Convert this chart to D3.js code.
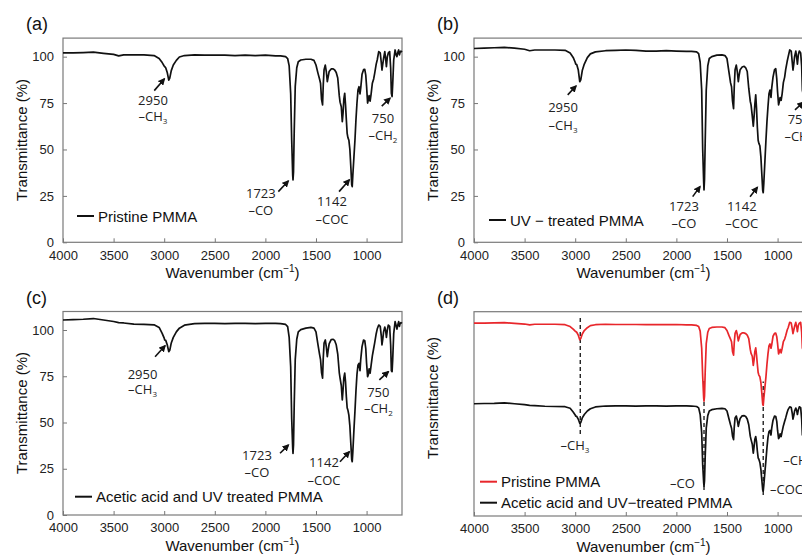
<!DOCTYPE html>
<html><head><meta charset="utf-8">
<script src="https://cdn.jsdelivr.net/npm/d3@7"></script>
<style>body{margin:0;background:#fff}svg{display:block}</style>
</head><body><svg id="c" width="802" height="558"></svg>
<script>
// ---- data ----
const wavenumbers = [4000,3900,3800,3700,3600,3500,3450,3400,3300,3200,3100,3050,3020,3000,2995,2985,2970,2955,2945,2930,2910,2880,2850,2800,2700,2600,2500,2400,2300,2200,2100,2000,1900,1850,1800,1780,1765,1750,1740,1730,1727,1722,1715,1705,1690,1675,1650,1600,1550,1520,1500,1480,1465,1455,1445,1435,1428,1420,1408,1398,1388,1380,1370,1350,1330,1315,1300,1285,1270,1262,1250,1240,1232,1225,1216,1208,1200,1192,1185,1175,1165,1155,1147,1142,1136,1125,1115,1105,1095,1085,1075,1065,1058,1045,1030,1018,1008,1000,990,982,975,965,955,943,930,920,905,895,880,865,855,848,840,832,820,810,804,795,785,772,762,755,748,742,732,718,708,700,690,683,675,668,660,650];
const pristine = [102.0,102.0,102.2,102.4,101.8,101.2,100.4,101.0,101.0,101.0,100.6,99.0,96.8,95.0,94.6,94.0,91.5,87.4,88.5,92.5,95.5,98.0,99.8,100.6,101.0,100.8,100.8,100.8,100.6,100.8,100.6,100.8,100.4,100.4,100.0,99.0,95.0,80.0,55.0,36.0,33.6,38.0,60.0,84.0,94.0,97.3,98.2,98.6,98.6,98.0,95.5,91.0,88.0,85.7,77.0,74.0,85.0,93.0,95.5,92.0,86.5,89.0,92.0,93.4,93.4,92.8,91.5,88.5,79.0,75.5,73.0,65.0,70.0,77.0,80.3,74.0,66.0,58.7,56.5,55.0,50.0,40.0,31.0,30.0,36.0,46.0,55.0,66.0,75.0,82.0,83.8,80.0,83.0,90.5,93.0,93.2,90.0,84.0,75.0,77.0,79.0,76.0,80.0,85.7,88.0,91.0,96.0,98.2,102.7,102.0,97.0,92.8,96.0,99.0,102.7,98.0,94.6,100.0,102.0,102.7,94.0,80.3,78.5,85.0,98.2,103.6,101.0,100.0,102.5,103.6,101.0,102.5,103.0,102.5];
const uvTreated = [104.4,104.6,104.8,105.0,104.6,104.0,103.2,103.6,103.6,103.6,103.4,102.0,99.6,97.0,96.0,95.8,93.0,86.5,87.5,92.5,96.0,99.5,101.5,102.6,103.2,103.4,103.6,103.4,103.0,103.0,103.2,103.0,102.8,102.8,102.6,101.6,97.0,82.0,50.0,32.0,28.2,34.0,55.0,82.0,95.0,99.0,100.0,100.8,101.0,100.6,99.0,91.5,86.0,83.8,76.0,72.0,84.0,93.0,95.5,92.0,86.5,90.0,93.0,94.4,94.8,94.0,92.0,83.0,76.0,74.0,68.0,62.5,68.0,74.0,79.4,72.0,62.0,55.0,53.3,52.0,46.0,36.0,28.0,26.7,32.0,44.0,55.0,65.0,73.0,80.0,82.0,78.0,83.0,89.0,93.0,93.5,88.0,81.0,74.0,76.0,78.0,76.5,80.0,86.0,89.0,93.0,97.5,100.0,103.6,103.0,97.0,92.8,96.0,100.0,103.0,99.0,96.0,101.0,103.0,102.0,95.0,82.0,80.0,86.0,98.0,104.0,102.0,101.0,103.0,104.2,102.0,103.0,103.5,103.0];
const aceticUv = [105.4,105.6,105.8,106.2,105.4,104.6,104.0,103.8,103.2,103.0,102.8,101.4,98.2,95.6,94.6,94.4,92.0,88.3,89.0,93.0,96.0,99.0,101.0,102.6,103.4,103.6,103.6,103.4,103.6,103.6,103.4,103.6,103.6,103.4,103.0,101.8,96.0,80.0,52.0,36.0,33.3,38.0,60.0,84.0,95.0,99.0,100.2,101.0,101.4,101.0,99.0,92.0,87.0,84.0,77.0,74.0,85.0,93.0,94.6,91.0,85.6,89.0,92.5,94.8,95.0,94.2,92.0,87.0,77.0,74.0,70.0,62.2,68.0,74.0,76.7,72.0,64.0,58.0,56.8,54.0,48.0,38.0,30.0,28.8,34.0,46.0,56.0,67.0,76.0,81.0,82.0,78.0,84.0,91.0,94.6,94.2,90.0,82.0,74.8,76.0,79.0,76.7,81.0,86.0,90.0,93.0,98.0,100.5,102.7,102.0,97.0,91.9,95.0,99.0,101.6,99.0,96.0,100.0,102.7,102.0,92.0,78.0,77.5,84.0,98.0,104.5,102.5,100.5,103.0,104.5,102.0,103.6,104.0,103.6];
const xTicks = [4000,3500,3000,2500,2000,1500,1000];
const yTicks = [0,25,50,75,100];
const xDomain = [4000,650];
const dOffset = 74;            // vertical offset of the red trace in panel (d)
const legendA = ["Pristine PMMA"];
const legendB = ["UV \u2212 treated PMMA"];
const legendC = ["Acetic acid and UV treated PMMA"];
const legendD = ["Pristine PMMA","Acetic acid and UV\u2212treated PMMA"];
// annotations: wavenumber / transmittance coordinates of label + arrow
const annotA = [
 {l1:"2950",l2:"\u2013CH",sub:"3",tx:3111,ty1:74,ty2:65.3,x0:3098,y0:81.7,x1:2999,y1:88},
 {l1:"1723",l2:"\u2013CO",sub:"",tx:2045,ty1:24.1,ty2:14.7,x0:1872,y0:27.3,x1:1774,y1:33},
 {l1:"1142",l2:"\u2013COC",sub:"",tx:1342,ty1:19.3,ty2:9.9,x0:1272,y0:27.3,x1:1171,y1:33.6},
 {l1:"750",l2:"\u2013CH",sub:"2",tx:838,ty1:64.3,ty2:55,x0:850,y0:73.4,x1:768,y1:77.6}
];
const annotB = [
 {l1:"2950",l2:"\u2013CH",sub:"3",tx:3120,ty1:70.2,ty2:60.5,x0:3074,y0:79.4,x1:2992,y1:84.2},
 {l1:"1723",l2:"\u2013CO",sub:"",tx:1925,ty1:16.9,ty2:7.7,x0:1839,y0:24.6,x1:1767,y1:30},
 {l1:"1142",l2:"\u2013COC",sub:"",tx:1354,ty1:16.9,ty2:7.7,x0:1272,y0:24.6,x1:1200,y1:29.6},
 {l1:"750",l2:"\u2013CH",sub:"2",tx:790,ty1:63.7,ty2:54.3,x0:828,y0:71.3,x1:746,y1:75.4}
];
const annotC = [
 {l1:"2950",l2:"\u2013CH",sub:"3",tx:3214,ty1:73.6,ty2:65.2,x0:3090,y0:85.5,x1:2992,y1:91.5},
 {l1:"1723",l2:"\u2013CO",sub:"",tx:2083,ty1:29.7,ty2:20.3,x0:1855,y0:33.4,x1:1773,y1:37.8},
 {l1:"1142",l2:"\u2013COC",sub:"",tx:1421,ty1:26.2,ty2:16.2,x0:1263,y0:28.8,x1:1171,y1:34.2},
 {l1:"750",l2:"\u2013CH",sub:"2",tx:884,ty1:64,ty2:55.1,x0:874,y0:73,x1:785,y1:77.5}
];
const labelsD = [
 {t:"\u2013CH",sub:"3",x:3002,y:64.6,anchor:"middle"},
 {t:"\u2013CO",sub:"",x:1940,y:31.7,anchor:"middle"},
 {t:"\u2013COC",sub:"",x:1075,y:26.4,anchor:"start"},
 {t:"\u2013CH",sub:"2",x:943,y:51.8,anchor:"start"}
];
const dashD = [
 {x:2950,y0:79,y1:180.8},
 {x:1727,y0:29.9,y1:128},
 {x:1142,y0:25.5,y1:124.9}
];

// ---- layout ----
const svg = d3.select("#c");
svg.append("rect").attr("width",802).attr("height",558).attr("fill","#fff");
const defs = svg.append("defs");
defs.append("marker").attr("id","ah").attr("viewBox","0 0 10 10").attr("refX",8).attr("refY",5)
  .attr("markerWidth",4.5).attr("markerHeight",4.5).attr("orient","auto")
  .append("path").attr("d","M0,0L10,5L0,10z").attr("fill","#111");

const AX = "'Liberation Sans', Arial, sans-serif";
const AN = "'Open Sans', sans-serif";

const panels = [
 {tag:"(a)", left:63, top:38.1, bottom:242.3, yDom:[0,110], series:[{v:pristine,off:0,c:"#111"}], ticks:true, annot:annotA, legend:legendA, legX:14, legY:216, ylabY:140},
 {tag:"(b)", left:474, top:38.1, bottom:242.3, yDom:[0,110], series:[{v:uvTreated,off:0,c:"#111"}], ticks:true, annot:annotB, legend:legendB, legX:15, legY:220, ylabY:140},
 {tag:"(c)", left:63, top:311.5, bottom:515, yDom:[0,110], series:[{v:aceticUv,off:0,c:"#111"}], ticks:true, annot:annotC, legend:legendC, legX:12, legY:496.7, ylabY:413},
 {tag:"(d)", left:474, top:311.7, bottom:516, yDom:[7.1,186], series:[{v:pristine,off:dOffset,c:"#e8262b"},{v:aceticUv,off:0,c:"#111"}], ticks:false, annot:null, legend:legendD, legX:6, legY:481.7, ylabY:398}
];
const W = 339;

panels.forEach(p => {
  const x = d3.scaleLinear().domain(xDomain).range([p.left, p.left+W]);
  const y = d3.scaleLinear().domain(p.yDom).range([p.bottom, p.top]);
  const g = svg.append("g");

  // x axis
  const xa = g.append("g").attr("transform",`translate(0,${p.bottom})`)
    .call(d3.axisBottom(x).tickValues(xTicks).tickFormat(d3.format("d")).tickSizeInner(-4).tickSizeOuter(0).tickPadding(8));
  xa.select(".domain").remove();
  xa.selectAll("line").attr("stroke","#777");
  xa.selectAll("text").attr("font-family",AX).attr("font-size",13).attr("fill","#222");

  // y axis
  const ya = g.append("g").attr("transform",`translate(${p.left},0)`)
    .call(d3.axisLeft(y).tickValues(p.ticks?yTicks:[]).tickFormat(d3.format("d")).tickSizeInner(-4).tickSizeOuter(0).tickPadding(9));
  ya.select(".domain").remove();
  ya.selectAll("line").attr("stroke","#777");
  ya.selectAll("text").attr("font-family",AX).attr("font-size",13).attr("fill","#222");

  // frame
  g.append("rect").attr("x",p.left).attr("y",p.top).attr("width",W).attr("height",p.bottom-p.top)
    .attr("fill","none").attr("stroke","#7a7a7a").attr("stroke-width",1.2);

  // dashed guide lines (d)
  if(!p.ticks){
    g.selectAll(".dash").data(dashD).join("line")
      .attr("x1",d=>x(d.x)).attr("x2",d=>x(d.x)).attr("y1",d=>y(d.y0)).attr("y2",d=>y(d.y1))
      .attr("stroke","#111").attr("stroke-width",1.3).attr("stroke-dasharray","4,3");
  }

  // spectra
  p.series.forEach(s => {
    const line = d3.line().x((d,i)=>x(wavenumbers[i])).y(d=>y(d+s.off));
    g.append("path").datum(s.v).attr("d",line).attr("fill","none")
      .attr("stroke",s.c).attr("stroke-width",1.7).attr("stroke-linejoin","round");
  });

  // annotations
  if(p.annot){
    p.annot.forEach(a=>{
      g.append("line").attr("x1",x(a.x0)).attr("y1",y(a.y0)).attr("x2",x(a.x1)).attr("y2",y(a.y1))
        .attr("stroke","#111").attr("stroke-width",1.6).attr("marker-end","url(#ah)");
      g.append("text").attr("x",x(a.tx)).attr("y",y(a.ty1)).attr("text-anchor","middle")
        .attr("font-family",AN).attr("font-size",13).attr("fill","#222").text(a.l1);
      const t = g.append("text").attr("x",x(a.tx)).attr("y",y(a.ty2)).attr("text-anchor","middle")
        .attr("font-family",AN).attr("font-size",13).attr("fill","#222");
      t.append("tspan").text(a.l2);
      if(a.sub) t.append("tspan").attr("font-size",8).attr("dy",3).text(a.sub);
    });
  } else {
    labelsD.forEach(a=>{
      const t = g.append("text").attr("x",x(a.x)).attr("y",y(a.y)).attr("text-anchor",a.anchor)
        .attr("font-family",AN).attr("font-size",13).attr("fill","#222");
      t.append("tspan").text(a.t);
      if(a.sub) t.append("tspan").attr("font-size",8).attr("dy",3).text(a.sub);
    });
  }

  // legend
  p.legend.forEach((txt,i)=>{
    const ly = p.legY + i*21;
    const col = p.series.length>1 ? p.series[i].c : p.series[0].c;
    g.append("line").attr("x1",p.left+p.legX).attr("x2",p.left+p.legX+17).attr("y1",ly).attr("y2",ly)
      .attr("stroke",col).attr("stroke-width",2);
    g.append("text").attr("x",p.left+p.legX+21).attr("y",ly+5.5).attr("font-family",AX).attr("font-size",15)
      .attr("fill","#111").text(txt);
  });

  // axis titles
  g.append("text").attr("x",p.left+W/2).attr("y",p.bottom+36).attr("text-anchor","middle")
    .attr("font-family",AX).attr("font-size",15).attr("fill","#111")
    .html("Wavenumber (cm<tspan dy='-6' font-size='10'>\u22121</tspan><tspan dy='6'>)</tspan>");
  g.append("text").attr("transform",`translate(${p.left-36},${p.ylabY}) rotate(-90)`).attr("text-anchor","middle")
    .attr("font-family",AX).attr("font-size",15).attr("fill","#111").text("Transmittance (%)");

  // panel tag
  g.append("text").attr("x",p.left-37).attr("y",p.top-8).attr("font-family",AX).attr("font-size",18)
    .attr("fill","#111").text(p.tag);
});
</script></body></html>
